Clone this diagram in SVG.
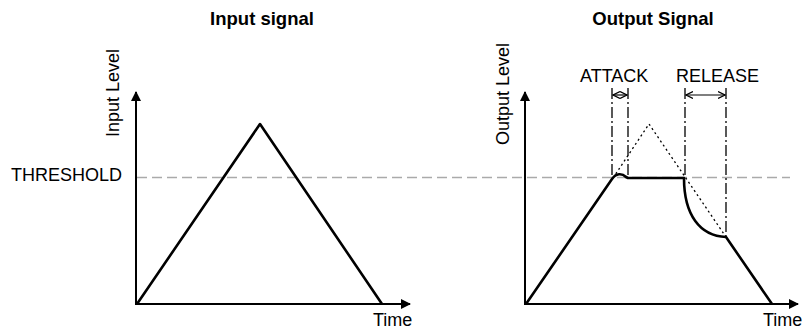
<svg xmlns="http://www.w3.org/2000/svg" width="811" height="331" viewBox="0 0 811 331">
<style>
text{font-family:"Liberation Sans",Arial,sans-serif;fill:#000}
.t{font-size:18.5px;font-weight:bold;text-anchor:middle}
.l{font-size:18px}
.ax{stroke:#000;stroke-width:2;fill:none}
.sig{stroke:#000;stroke-width:2.6;fill:none;stroke-linejoin:round}
.thr{stroke:#aaa;stroke-width:1.5;stroke-dasharray:10 5;fill:none}
.dd{stroke:#000;stroke-width:1.3;stroke-dasharray:11 3 2 3;fill:none}
.dot{stroke:#000;stroke-width:1.3;stroke-dasharray:2 3;fill:none}
.da{stroke:#000;stroke-width:1.2;fill:none;marker-start:url(#ah);marker-end:url(#ah)}
</style>
<defs>
<marker id="tri" markerWidth="10" markerHeight="10" refX="9" refY="5" orient="auto" markerUnits="userSpaceOnUse">
<path d="M0,0 L10,5 L0,10 Z" fill="#000"/>
</marker>
<marker id="ah" markerWidth="8" markerHeight="8" refX="7" refY="4" orient="auto-start-reverse" markerUnits="userSpaceOnUse">
<path d="M0,0.5 L7,4 L0,7.5" fill="none" stroke="#000" stroke-width="1.2"/>
</marker>
</defs>
<g id="threshold">
<line class="thr" x1="137" y1="177.5" x2="790" y2="177.5"/>
<text class="l" x="11" y="181">THRESHOLD</text>
</g>
<g id="input-chart">
<text class="t" x="262" y="25">Input signal</text>
<text class="l" transform="translate(119,93) rotate(-90)" text-anchor="middle">Input Level</text>
<line class="ax" x1="136" y1="305" x2="136" y2="92" marker-end="url(#tri)"/>
<line class="ax" x1="136" y1="304" x2="410" y2="304" marker-end="url(#tri)"/>
<text class="l" x="373" y="326">Time</text>
<polyline class="sig" points="137,304 260,124 382,304"/>
</g>
<g id="output-chart">
<text class="t" x="653" y="25">Output Signal</text>
<text class="l" transform="translate(509,94) rotate(-90)" text-anchor="middle">Output Level</text>
<line class="ax" x1="525" y1="305" x2="525" y2="92" marker-end="url(#tri)"/>
<line class="ax" x1="525" y1="304" x2="798" y2="304" marker-end="url(#tri)"/>
<text class="l" x="763" y="326">Time</text>
<polyline class="dot" points="613,178 649,124 726,237"/>
<path class="sig" d="M526,304 L612,179 C616,173 622,173 626,177 L628,178 L684,178 C684,215 700,236 726,237 L772,304"/>
</g>
<g id="attack">
<text class="l" x="580" y="82">ATTACK</text>
<line class="dd" x1="612" y1="88" x2="612" y2="176"/>
<line class="dd" x1="628" y1="88" x2="628" y2="178"/>
<line class="da" x1="613" y1="95" x2="627" y2="95"/>
</g>
<g id="release">
<text class="l" x="676" y="82">RELEASE</text>
<line class="dd" x1="685" y1="88" x2="685" y2="178"/>
<line class="dd" x1="726" y1="88" x2="726" y2="237"/>
<line class="da" x1="686" y1="95" x2="725" y2="95"/>
</g>
</svg>
